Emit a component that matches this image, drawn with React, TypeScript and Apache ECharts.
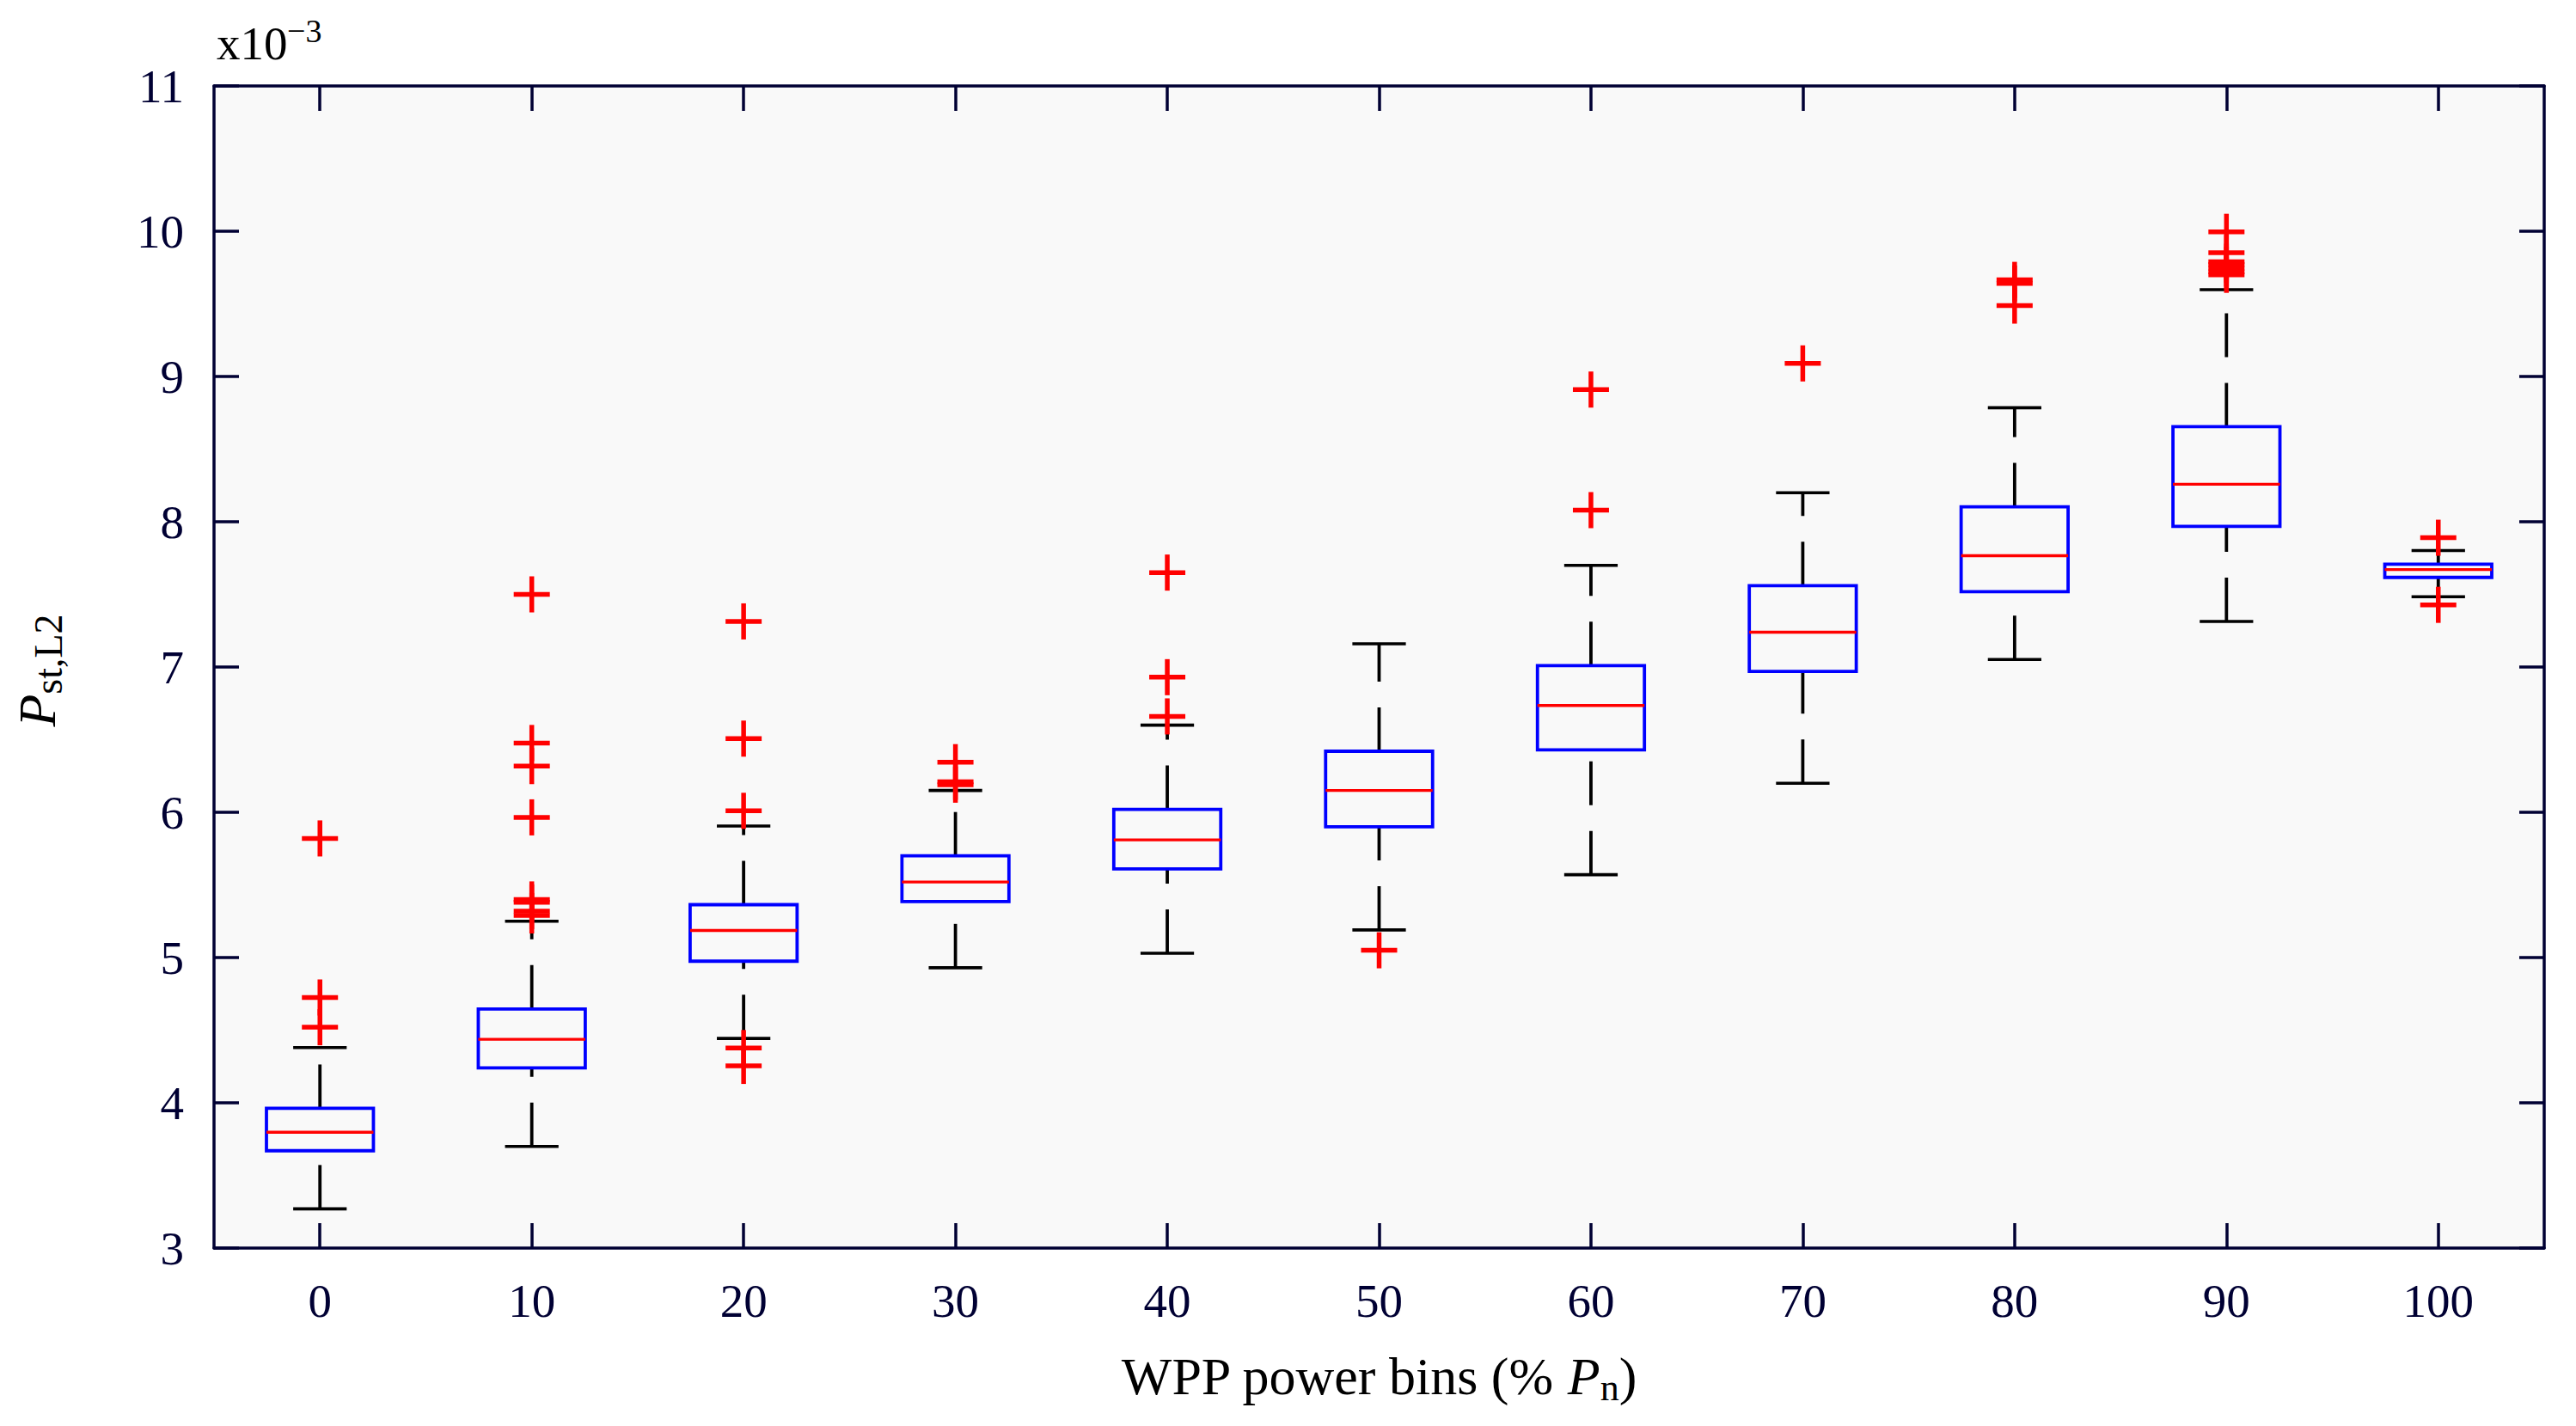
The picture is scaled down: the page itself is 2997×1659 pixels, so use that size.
import React, { useEffect, useRef } from "react";
import * as echarts from "echarts";

const categories = ["0", "10", "20", "30", "40", "50", "60", "70", "80", "90", "100"];
const lowerWhisker = [3.27, 3.7, 4.443, 4.93, 5.03, 5.19, 5.57, 6.2, 7.052, 7.314, 7.484];
const q1 = [3.67, 4.24, 4.975, 5.385, 5.61, 5.9, 6.43, 6.97, 7.518, 7.968, 7.617];
const medians = [3.797, 4.437, 5.186, 5.52, 5.81, 6.15, 6.735, 7.24, 7.766, 8.258, 7.671];
const q3 = [3.962, 4.646, 5.364, 5.7, 6.02, 6.42, 7.01, 7.56, 8.103, 8.654, 7.708];
const upperWhisker = [4.38, 5.25, 5.905, 6.15, 6.6, 7.16, 7.7, 8.2, 8.785, 9.598, 7.802];
const outliers = [
  [4.52, 4.725, 5.82],
  [5.29, 5.32, 5.38, 5.4, 5.965, 6.318, 6.477, 7.5],
  [4.254, 4.377, 6.01, 6.507, 7.314],
  [6.19, 6.21, 6.345],
  [6.66, 6.93, 7.65],
  [5.05],
  [8.08, 8.91],
  [9.09],
  [9.488, 9.64, 9.665],
  [9.7, 9.72, 9.745, 9.77, 9.79, 9.852, 9.996],
  [7.428, 7.89],
];
const yTicks = { min: 3, max: 11, interval: 1 };

const AXIS_COLOR = "#000033";
const FONT = '"Liberation Serif", "Times New Roman", serif';

export default function App() {
  const ref = useRef<HTMLDivElement>(null);
  useEffect(() => {
    if (!ref.current) return;
    const chart = echarts.init(ref.current, null, { renderer: "svg" });

    const boxData = categories.map((_, i) => [i, lowerWhisker[i], q1[i], medians[i], q3[i], upperWhisker[i]]);
    const outlierData: number[][] = [];
    outliers.forEach((arr, i) => arr.forEach((v) => outlierData.push([i, v])));

    const xAxisBase = {
      type: "category" as const,
      data: categories,
      boundaryGap: true,
      axisLine: { show: true, lineStyle: { color: AXIS_COLOR, width: 3.5 } },
      axisTick: { show: true, inside: true, length: 29, alignWithLabel: true, lineStyle: { color: AXIS_COLOR, width: 3.5 } },
      splitLine: { show: false },
    };
    const yAxisBase = {
      type: "value" as const,
      min: yTicks.min,
      max: yTicks.max,
      interval: yTicks.interval,
      axisLine: { show: true, lineStyle: { color: AXIS_COLOR, width: 3.5 } },
      axisTick: { show: true, inside: true, length: 29, lineStyle: { color: AXIS_COLOR, width: 3.5 } },
      splitLine: { show: false },
    };

    const subRich = (size: number) => ({
      fontSize: size,
      fontFamily: FONT,
      fill: "#000000",
      height: 89,
      lineHeight: 89,
      verticalAlign: "top",
    });

    const option: any = {
      animation: false,
      backgroundColor: "#ffffff",
      grid: {
        left: 249,
        right: 37,
        top: 100,
        bottom: 207,
        show: true,
        backgroundColor: "#f9f9f9",
        borderWidth: 0,
        containLabel: false,
        outerBoundsMode: "none",
      },
      xAxis: [
        {
          ...xAxisBase,
          position: "bottom",
          axisLabel: { show: true, fontSize: 55, fontFamily: FONT, color: AXIS_COLOR, margin: 34 },
        },
        {
          ...xAxisBase,
          position: "top",
          axisLabel: { show: false },
        },
      ],
      yAxis: [
        {
          ...yAxisBase,
          position: "left",
          axisLabel: { show: true, fontSize: 55, fontFamily: FONT, color: AXIS_COLOR, margin: 35, padding: [0, 0, 14, 0] },
        },
        {
          ...yAxisBase,
          position: "right",
          axisLabel: { show: false },
        },
      ],
      series: [
        {
          type: "custom",
          name: "boxes",
          xAxisIndex: 0,
          yAxisIndex: 0,
          data: boxData,
          encode: { x: 0, y: [1, 2, 3, 4, 5] },
          renderItem: (params: any, api: any) => {
            const i = api.value(0);
            const pLow = api.coord([i, api.value(1)]);
            const pQ1 = api.coord([i, api.value(2)]);
            const pMed = api.coord([i, api.value(3)]);
            const pQ3 = api.coord([i, api.value(4)]);
            const pUp = api.coord([i, api.value(5)]);
            const band = api.size([1, 0])[0];
            const boxW = band * 0.505;
            const capW = boxW / 2;
            const cx = pMed[0];
            const whiskerStyle = { stroke: "#000000", lineWidth: 3.8, lineDash: [51, 30], fill: null };
            const capStyle = { stroke: "#000000", lineWidth: 3.6, fill: null };
            return {
              type: "group",
              children: [
                { type: "line", shape: { x1: cx, y1: pLow[1], x2: cx, y2: pQ1[1] }, style: whiskerStyle },
                { type: "line", shape: { x1: cx, y1: pQ3[1], x2: cx, y2: pUp[1] }, style: whiskerStyle },
                { type: "line", shape: { x1: cx - capW / 2, y1: pLow[1], x2: cx + capW / 2, y2: pLow[1] }, style: capStyle },
                { type: "line", shape: { x1: cx - capW / 2, y1: pUp[1], x2: cx + capW / 2, y2: pUp[1] }, style: capStyle },
                {
                  type: "rect",
                  shape: { x: cx - boxW / 2, y: pQ3[1], width: boxW, height: pQ1[1] - pQ3[1] },
                  style: { stroke: "#0000ff", lineWidth: 3.8, fill: null },
                },
                {
                  type: "line",
                  shape: { x1: cx - boxW / 2, y1: pMed[1], x2: cx + boxW / 2, y2: pMed[1] },
                  style: { stroke: "#ff0000", lineWidth: 3.4, fill: null },
                },
              ],
            };
          },
          z: 5,
        },
        {
          type: "custom",
          name: "outliers",
          xAxisIndex: 0,
          yAxisIndex: 0,
          data: outlierData,
          encode: { x: 0, y: 1 },
          renderItem: (params: any, api: any) => {
            const c = api.coord([api.value(0), api.value(1)]);
            const h = 21;
            const st = { stroke: "#ff0000", lineWidth: 5.5, fill: null };
            return {
              type: "group",
              children: [
                { type: "line", shape: { x1: c[0] - h, y1: c[1], x2: c[0] + h, y2: c[1] }, style: st },
                { type: "line", shape: { x1: c[0], y1: c[1] - h, x2: c[0], y2: c[1] + h }, style: st },
              ],
            };
          },
          z: 6,
        },
      ],
      graphic: [
        {
          type: "text",
          x: 252,
          y: 50,
          style: { text: "x10", fontSize: 55, fontFamily: FONT, fill: "#000000", align: "left", verticalAlign: "middle" },
        },
        {
          type: "text",
          x: 334,
          y: 36,
          style: { text: "−3", fontSize: 38, fontFamily: FONT, fill: "#000000", align: "left", verticalAlign: "middle" },
        },
        {
          type: "text",
          x: 1604,
          y: 1614,
          style: {
            text: "{t|WPP power bins (% }{p|P}{s|n}{t|)}",
            align: "center",
            verticalAlign: "middle",
            rich: {
              t: { fontSize: 62, fontFamily: FONT, fill: "#000000", height: 62, lineHeight: 62, verticalAlign: "top" },
              p: { fontSize: 62, fontFamily: FONT, fontStyle: "italic", fill: "#000000", height: 62, lineHeight: 62, verticalAlign: "top" },
              s: subRich(44),
            },
          },
        },
        {
          type: "text",
          x: 56,
          y: 780,
          rotation: Math.PI / 2,
          style: {
            text: "{p|P}{s|st,L2}",
            align: "center",
            verticalAlign: "middle",
            rich: {
              p: { fontSize: 62, fontFamily: FONT, fontStyle: "italic", fill: "#000000", height: 62, lineHeight: 62, verticalAlign: "top" },
              s: subRich(46),
            },
          },
        },
      ],
    };
    chart.setOption(option);
    return () => chart.dispose();
  }, []);
  return <div ref={ref} style={{ position: "fixed", left: 0, top: 0, width: 2997, height: 1659 }} />;
}
